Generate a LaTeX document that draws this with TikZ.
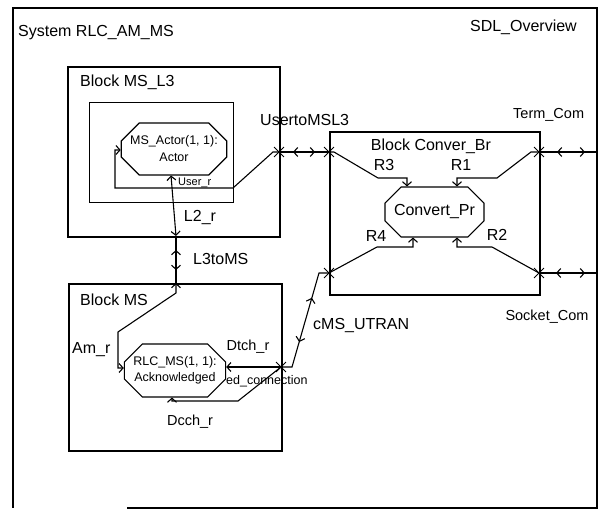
\documentclass[tikz,border=0pt]{standalone}
\usepackage{fontspec}
\setmainfont{Liberation Sans}
\usetikzlibrary{arrows.meta,shapes.misc,decorations.markings}
\newcommand\szL{\fontsize{16}{18}\selectfont}
\newcommand\szM{\fontsize{14.5}{16}\selectfont}
\newcommand\szN{\fontsize{12.5}{16}\selectfont}
\newcommand\szS{\fontsize{11}{13}\selectfont}
\begin{document}
\begin{tikzpicture}[x=1pt,y=-1pt,
  >={Straight Barb[length=4pt,width=9pt]},
  frame/.style={line width=1.6pt},
  blk/.style={draw, line width=2.4pt, inner sep=0pt, anchor=north west},
  inrect/.style={draw, line width=1.2pt, inner sep=0pt, anchor=north west},
  proc/.style={draw, line width=1.1pt, chamfered rectangle, chamfered rectangle xsep=9pt,
    chamfered rectangle ysep=9pt, inner sep=0pt, align=center},
  lbl/.style={inner sep=0pt, font=\szL},
  route/.style={line width=1.1pt},
  jx/.style={cross out, draw, line width=0.9pt, minimum size=9pt, inner sep=0pt},
  chan/.style 2 args={line width=1.1pt, postaction={decorate},
    decoration={markings, mark=at position #1 with {\arrowreversed{>}},
      mark=at position #2 with {\arrow{>}}}},
]
\useasboundingbox (0,0) rectangle (603,510);
\fill[white] (0,0) rectangle (603,510);
% system frame
\draw[frame] (127,508) -- (597,508) -- (597,8) -- (13,8) -- (13,508);
\node[lbl, anchor=west] (tsys) at (18,33) {System RLC\_AM\_MS};
\node[lbl, anchor=east] (tsdl) at (577,27) {SDL\_Overview};
% blocks
\node[blk, minimum width=212pt, minimum height=170pt] (bl3) at (67,66) {};
\node[inrect, minimum width=144pt, minimum height=100pt] (inr) at (89,102) {};
\node[blk, minimum width=213pt, minimum height=167pt] (bms) at (68,283) {};
\node[blk, minimum width=210pt, minimum height=163pt] (bcv) at (329,131) {};
\node[lbl, anchor=west] (tbl3) at (80,82) {Block MS\_L3};
\node[lbl, anchor=west] (tbms) at (80,300) {Block MS};
\node[lbl] (tbcv) at (431,146) {Block Conver\_Br};
% processes
\node[proc, minimum width=98pt, minimum height=52pt, font=\szN] (actor) at (174,149)
  {MS\_Actor(1, 1):\\[1pt]Actor};
\node[proc, minimum width=96pt, minimum height=53pt, font=\szN] (rlc) at (175,370.5)
  {RLC\_MS(1, 1):\\Acknowledged};
\node[proc, minimum width=99pt, minimum height=50pt, font=\szL] (cpr) at (434.5,212)
  {Convert\_Pr};
% junctions
\node[jx] (j1) at (279,152) {};
\node[jx] (j2) at (329,152) {};
\node[jx] (j3) at (539,152) {};
\node[jx] (j4) at (329,273) {};
\node[jx] (j5) at (539,273) {};
\node[jx] (j6) at (281,367) {};
\coordinate (jb) at (176,236);
\coordinate (jm) at (176,283);
\coordinate (jt) at (597,152);
\coordinate (js) at (597,273);
% routes in MS_L3
\draw[route,->] (j1.center) -- (273,152) -- (233,188) -- (115,188) -- (115,150)
  -- (115,150 -| actor.west);
\draw[route,<->] (171,0 |- actor.south) -- (jb);
% routes in MS
\draw[route,<->] (jm) -- (176,293) -- (118,332) -- (118,368) -- (118,368 -| rlc.west);
\draw[route,->] (j6.center) -- (j6.center -| rlc.east);
\draw[route,->] (j6.center) -- (238,401) -- (172,401) -- (172,401 |- rlc.south);
% routes in Conver_Br
\draw[route,->] (j2.center) -- (334,152) -- (378,178) -- (407,178) -- (407,178 |- cpr.north);
\draw[route,->] (j3.center) -- (531,152) -- (497,178) -- (457,178) -- (457,178 |- cpr.north);
\draw[route,->] (j4.center) -- (377,247) -- (413,247) -- (413,247 |- cpr.south);
\draw[route,->] (j5.center) -- (492,247) -- (457,247) -- (457,247 |- cpr.south);
% channels
\draw[chan={14pt}{36pt}] (j1.center) -- (j2.center);
\draw[chan={14pt}{34pt}] (jb) -- (jm);
\draw[chan={37pt}{83pt}] (j6.center) -- (292,367) -- (319,273) -- (j4.center);
\draw[chan={18pt}{46pt}] (j3.center) -- (jt);
\draw[chan={17pt}{46pt}] (j5.center) -- (js);
% labels
\node[lbl, anchor=west] (tu3) at (260,120) {UsertoMSL3};
\node[lbl, anchor=west, font=\szM] (tterm) at (513,115) {Term\_Com};
\node[lbl, font=\szM] (tsock) at (547,317) {Socket\_Com};
\node[lbl] (tr3) at (384,165) {R3};
\node[lbl] (tr1) at (461,165) {R1};
\node[lbl] (tr4) at (376,236) {R4};
\node[lbl] (tr2) at (497,235) {R2};
\node[lbl] (tl2) at (200,218) {L2\_r};
\node[lbl, anchor=west] (tl3) at (193,259) {L3toMS};
\node[lbl, anchor=west, font=\szS] (tusr) at (178,183) {User\_r};
\node[lbl, anchor=west] (tam) at (72,350) {Am\_r};
\node[lbl, font=\szM] (tdt) at (248,347) {Dtch\_r};
\node[lbl, font=\szM] (tdc) at (190,422) {Dcch\_r};
\node[lbl, anchor=west, font=\szN] (ted) at (226,381) {ed\_connection};
\node[lbl, anchor=west] (tcms) at (313,326) {cMS\_UTRAN};
\end{tikzpicture}
\end{document}
